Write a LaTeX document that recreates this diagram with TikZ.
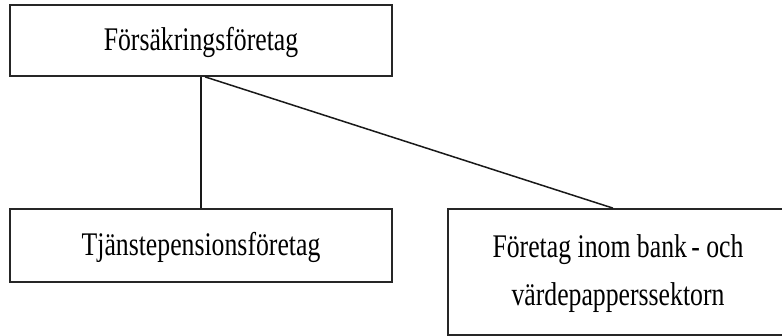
\documentclass[tikz,border=0pt]{standalone}
\usepackage{fontspec}
\setmainfont{Liberation Serif}
\usetikzlibrary{calc}
\newcommand{\narrowtext}[1]{\scalebox{0.78}[1]{\begin{tabular}{@{}c@{}}#1\end{tabular}}}
\begin{document}
\begin{tikzpicture}[x=1pt,y=-1pt]
\tikzset{
  orgbox/.style={draw=black!85, line width=1.7pt, inner sep=0pt, anchor=center,
    font=\fontsize{33}{48}\selectfont},
  link/.style={draw=black!90, line width=1.5pt}
}
\useasboundingbox[fill=white] (0,0) rectangle (782,336);
\node[orgbox, minimum width=382pt, minimum height=71pt] (top) at (201,40.5)
  {\narrowtext{Försäkringsföretag}};
\node[orgbox, minimum width=382pt, minimum height=73pt] (left) at (201,245.5)
  {\narrowtext{Tjänstepensionsföretag}};
\node[orgbox, minimum width=340pt, minimum height=126pt] (right) at (618,272)
  {\narrowtext{Företag inom bank\,- och\\värdepapperssektorn}};
\draw[link] (top.south) -- (left.north);
\draw[link] ($(top.south)+(4,0)$) -- ($(right.north)+(-5,0)$);
\end{tikzpicture}
\end{document}
